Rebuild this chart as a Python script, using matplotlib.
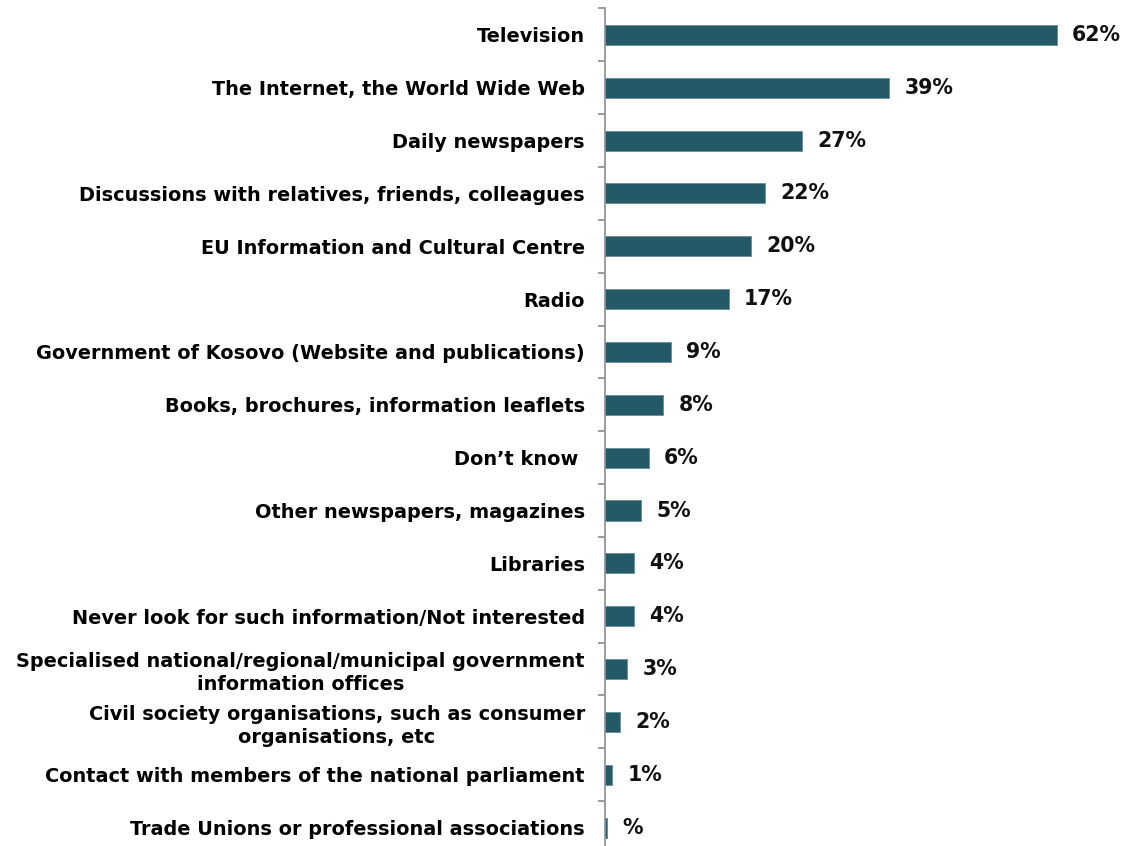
import matplotlib
matplotlib.use("Agg")
import matplotlib.pyplot as plt

sources = [
    "Television",
    "The Internet, the World Wide Web",
    "Daily newspapers",
    "Discussions with relatives, friends, colleagues",
    "EU Information and Cultural Centre",
    "Radio",
    "Government of Kosovo (Website and publications)",
    "Books, brochures, information leaflets",
    "Don\u2019t know ",
    "Other newspapers, magazines",
    "Libraries",
    "Never look for such information/Not interested",
    "Specialised national/regional/municipal government\ninformation offices",
    "Civil society organisations, such as consumer\norganisations, etc",
    "Contact with members of the national parliament",
    "Trade Unions or professional associations",
]
shares = [62, 39, 27, 22, 20, 17, 9, 8, 6, 5, 4, 4, 3, 2, 1, 0.3]
share_labels = ["62%", "39%", "27%", "22%", "20%", "17%", "9%", "8%",
                "6%", "5%", "4%", "4%", "3%", "2%", "1%", "%"]

plt.rcParams['font.family'] = ['DejaVu Sans']
fig = plt.figure(figsize=(11.32, 8.46), dpi=100)
ax = fig.add_axes([0.5345, -0.0095, 0.46, 0.9995])

pos = list(range(len(sources)))
ax.barh(pos, shares, height=0.38, color='#245a68', edgecolor='#6b939d', linewidth=0.7)
for y, v, lab in zip(pos, shares, share_labels):
    ax.text(v + 2.1, y, lab, va='center', ha='left', fontsize=14.8,
            fontweight='bold', color='#111111')

ax.set_ylim(len(sources) - 0.5, -0.5)
ax.set_xlim(0, 71.5)
ax.set_yticks(pos)
ax.set_yticklabels(sources, fontsize=13.9, fontweight='bold',
                   multialignment='center', linespacing=1.25)
ax.tick_params(axis='y', which='major', length=0, pad=14.5)
ax.set_yticks([p + 0.5 for p in pos[:-1]] + [-0.5], minor=True)
ax.tick_params(axis='y', which='minor', length=5, width=1.2, color='#8c8c8c')
ax.set_xticks([])
for s in ['top', 'right', 'bottom']:
    ax.spines[s].set_visible(False)
ax.spines['left'].set_color('#8c8c8c')
ax.spines['left'].set_linewidth(1.2)

fig.savefig("out.png", dpi=100)
